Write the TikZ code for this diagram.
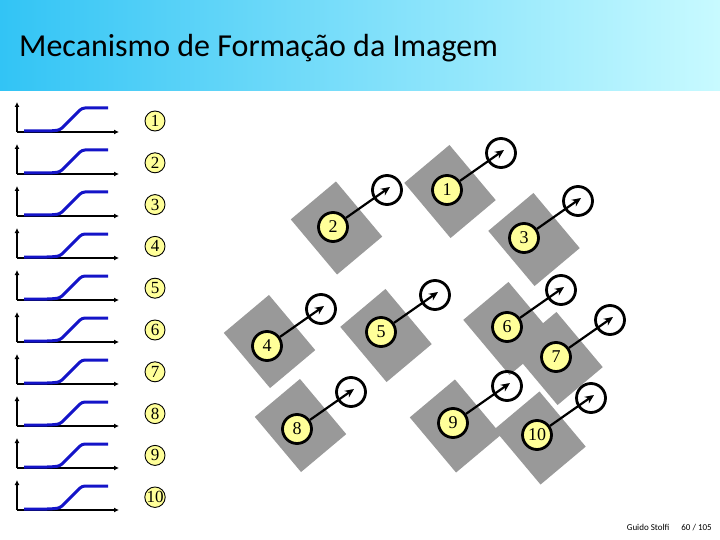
\documentclass[tikz,border=0pt]{standalone}
\usepackage{fontspec}
\setmainfont{Liberation Serif}
\newfontfamily\slidefont{Carlito}
\usetikzlibrary{calc, arrows.meta}

\definecolor{ballyellow}{RGB}{255,255,153}
\definecolor{boxgray}{RGB}{153,153,153}
\definecolor{curveblue}{RGB}{20,20,200}
\definecolor{barleft}{RGB}{50,196,245}
\definecolor{barright}{RGB}{200,250,255}

\begin{document}
\begin{tikzpicture}
    [x=1pt, y=-1pt,
    smallball/.style={circle, draw=black, line width=0.9pt, fill=ballyellow, minimum size=20pt, inner sep=0pt, font=\fontsize{17}{17}\selectfont},
    numball/.style={circle, draw=black, line width=2.8pt, fill=ballyellow, minimum size=29pt, inner sep=0pt, font=\fontsize{18}{18}\selectfont},
    ring/.style={circle, draw=black, line width=2.8pt, minimum size=29pt, inner sep=0pt},
    pixbox/.style={rectangle, fill=boxgray, minimum width=59pt, minimum height=72pt, inner sep=0pt, rotate=40},
    pointer/.style={line width=2.2pt, -{Stealth[length=9pt, width=8pt]}},
    axisline/.style={line width=1.3pt, -{Latex[length=5pt, width=5pt]}},
    curve/.style={curveblue, line width=3pt, rounded corners=3pt},]

    \useasboundingbox (0,0) rectangle (720,540);

    %Header
    \shade[left color=barleft, right color=barright] (0,0) rectangle (720,91);
    \node[anchor=base west, inner sep=0pt, font=\slidefont\fontsize{32}{32}\selectfont] (title) at (19,57) {Mecanismo de Formação da Imagem};
    \node[anchor=base east, inner sep=0pt, font=\slidefont\fontsize{9}{9}\selectfont] (foot) at (712,530) {Guido Stolfi\hspace{12pt}60 / 105};

    %Curves
    \foreach \i in {0,...,9}{
        \pgfmathsetmacro{\yb}{132+42*\i}
        \draw[axisline] (17,\yb) -- (17,\yb-30);
        \draw[axisline] (17,\yb) -- (119,\yb);
        \draw[curve] (24,\yb-1) -- (50,\yb-1) -- (60,\yb-2) -- (82,\yb-24) -- (108,\yb-24);
    }

    %Keys
    \foreach \i in {1,...,10}{
        \node[smallball] (key\i) at (155,{121+41.8*(\i-1)}) {\i};
    }

    %Boxes
    \foreach \n/\bx/\by in {1/450/191.5, 2/336.5/228, 3/534/239.5, 4/269.5/341.5, 5/386/335.5,
                            6/509/328.5, 7/557/358.5, 8/300.5/425.5, 9/455.5/426, 10/540/438}{
        \node[pixbox] (box\n) at (\bx,\by) {};
    }

    %Balls and pointers
    \foreach \n/\cx/\cy in {1/447/190, 2/333/227, 3/524/238, 4/267/346, 5/381/332,
                            6/507/327, 7/556/357, 8/297/429, 9/453/423, 10/537/435}{
        \node[numball] (ball\n) at (\cx,\cy) {\n};
        \node[ring] (ring\n) at ($(ball\n)+(54,-37)$) {};
        \coordinate (tip\n) at ($(ball\n)+(57,-40)$);
        \draw[pointer] (ball\n) -- (tip\n);
    }
\end{tikzpicture}
\end{document}
